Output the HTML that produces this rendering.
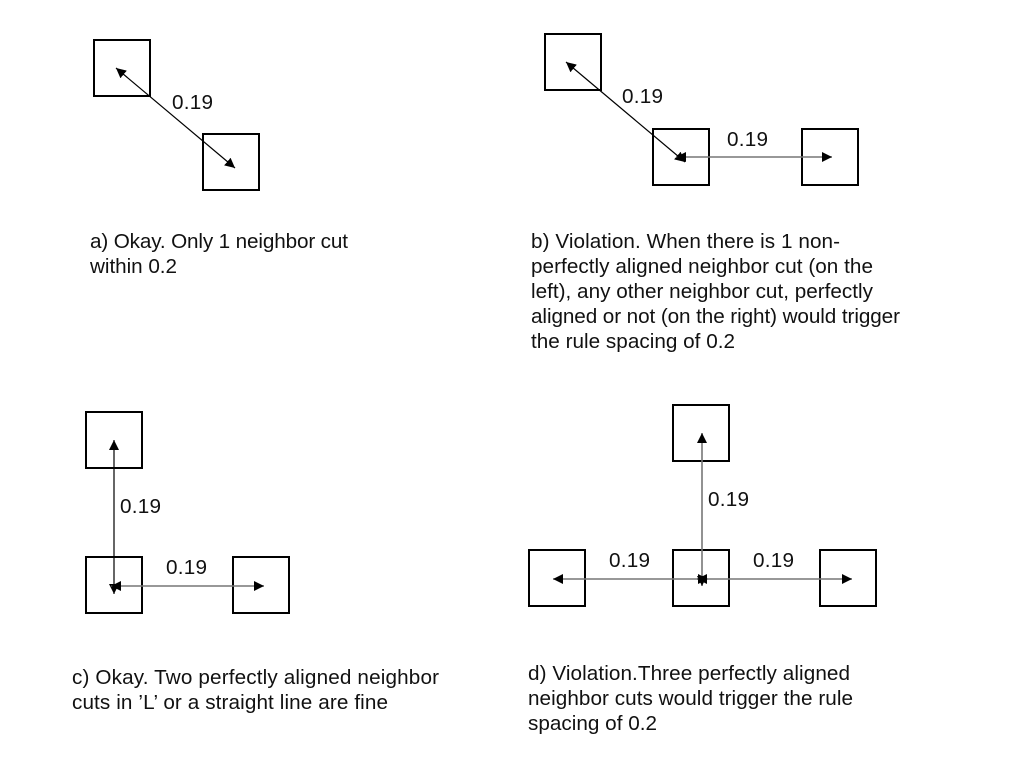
<!DOCTYPE html>
<html>
<head>
<meta charset="utf-8">
<style>
html,body{margin:0;padding:0;background:#fff;}
svg{display:block;}
text{font-family:"Liberation Sans",Arial,sans-serif;font-size:20.7px;fill:#111;}
rect{fill:none;stroke:#000;stroke-width:2;}
line{stroke:#000;stroke-width:1.2;}
line.g{stroke:#777;stroke-width:1.6;}
</style>
</head>
<body>
<svg width="1013" height="765" viewBox="0 0 1013 765" xmlns="http://www.w3.org/2000/svg">
<defs>
<marker id="a" markerUnits="userSpaceOnUse" markerWidth="12" markerHeight="12" refX="10" refY="5" orient="auto-start-reverse">
<path d="M0,0L10,5L0,10z" fill="#000"/>
</marker>
</defs>

<!-- a -->
<rect x="94" y="40" width="56" height="56"/>
<rect x="203" y="134" width="56" height="56"/>
<line x1="116" y1="68" x2="235" y2="168" marker-start="url(#a)" marker-end="url(#a)"/>
<text x="172" y="109" textLength="41">0.19</text>
<text x="90" y="248" textLength="258">a) Okay. Only 1 neighbor cut</text>
<text x="90" y="273" textLength="87">within 0.2</text>

<!-- b -->
<rect x="545" y="34" width="56" height="56"/>
<rect x="653" y="129" width="56" height="56"/>
<rect x="802" y="129" width="56" height="56"/>
<line x1="566" y1="62" x2="685" y2="162" marker-start="url(#a)" marker-end="url(#a)"/>
<line class="g" x1="676" y1="157" x2="832" y2="157" marker-start="url(#a)" marker-end="url(#a)"/>
<text x="622" y="103" textLength="41">0.19</text>
<text x="727" y="146" textLength="41">0.19</text>
<text x="531" y="248" textLength="309">b) Violation. When there is 1 non-</text>
<text x="531" y="273" textLength="342">perfectly aligned neighbor cut (on the</text>
<text x="531" y="298" textLength="342">left), any other neighbor cut, perfectly</text>
<text x="531" y="323" textLength="369">aligned or not (on the right) would trigger</text>
<text x="531" y="348" textLength="204">the rule spacing of 0.2</text>

<!-- c -->
<rect x="86" y="412" width="56" height="56"/>
<rect x="86" y="557" width="56" height="56"/>
<rect x="233" y="557" width="56" height="56"/>
<line x1="114" y1="440" x2="114" y2="594" marker-start="url(#a)" marker-end="url(#a)"/>
<line class="g" x1="111" y1="586" x2="264" y2="586" marker-start="url(#a)" marker-end="url(#a)"/>
<text x="120" y="513" textLength="41">0.19</text>
<text x="166" y="574" textLength="41">0.19</text>
<text x="72" y="684" textLength="367">c) Okay. Two perfectly aligned neighbor</text>
<text x="72" y="709" textLength="316">cuts in ’L’ or a straight line are fine</text>

<!-- d -->
<rect x="673" y="405" width="56" height="56"/>
<rect x="529" y="550" width="56" height="56"/>
<rect x="673" y="550" width="56" height="56"/>
<rect x="820" y="550" width="56" height="56"/>
<line class="g" x1="702" y1="433" x2="702" y2="586" marker-start="url(#a)" marker-end="url(#a)"/>
<line class="g" x1="553" y1="579" x2="708" y2="579" marker-start="url(#a)" marker-end="url(#a)"/>
<line class="g" x1="697" y1="579" x2="852" y2="579" marker-start="url(#a)" marker-end="url(#a)"/>
<text x="708" y="506" textLength="41">0.19</text>
<text x="609" y="567" textLength="41">0.19</text>
<text x="753" y="567" textLength="41">0.19</text>
<text x="528" y="680" textLength="322">d) Violation.Three perfectly aligned</text>
<text x="528" y="705" textLength="325">neighbor cuts would trigger the rule</text>
<text x="528" y="730" textLength="129">spacing of 0.2</text>
</svg>
</body>
</html>
